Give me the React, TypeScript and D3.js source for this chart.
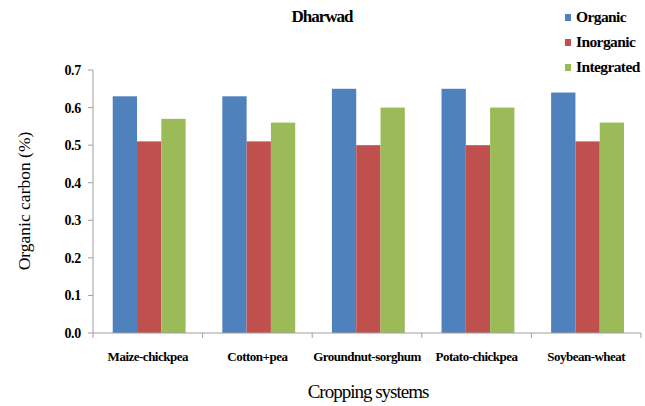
import React from "react";
import * as d3 from "d3";

const categories = ["Maize-chickpea", "Cotton+pea", "Groundnut-sorghum", "Potato-chickpea", "Soybean-wheat"];
const seriesNames = ["Organic", "Inorganic", "Integrated"];
const organic = [0.63, 0.63, 0.65, 0.65, 0.64];
const inorganic = [0.51, 0.51, 0.5, 0.5, 0.51];
const integrated = [0.57, 0.56, 0.6, 0.6, 0.56];
const yTicks = [0, 0.1, 0.2, 0.3, 0.4, 0.5, 0.6, 0.7];
const colors = ["#4F81BD", "#C0504D", "#9BBB59"];

const W = 645, H = 406;
const margin = { left: 93, right: 4, top: 70, bottom: 73 };

export default function App() {
  const series = [organic, inorganic, integrated];
  const x = d3.scaleBand().domain(categories).range([margin.left, W - margin.right]).paddingInner(0).paddingOuter(0);
  const bw = x.bandwidth();
  const inner = d3.scaleBand().domain(seriesNames).range([bw * 0.18, bw * 0.845]);
  const y = d3.scaleLinear().domain([0, 0.7]).range([H - margin.bottom, margin.top]);
  const font = "'Liberation Serif', 'Times New Roman', serif";
  const axisColor = "#a0a0a0";
  const boundaries = categories.map((c) => x(c)!).concat([x(categories[categories.length - 1])! + bw]);
  return (
    <svg width={W} height={H} style={{ position: "absolute", left: 0, top: 0, background: "#fff" }}>
      <text x={322} y={22} textAnchor="middle" fontFamily={font} fontSize={17} fontWeight="bold" letterSpacing={-1}>Dharwad</text>
      {categories.map((c, i) =>
        series.map((s, j) => (
          <rect key={c + j} x={x(c)! + inner(seriesNames[j])!} y={y(s[i])} width={inner.bandwidth()} height={y(0) - y(s[i])} fill={colors[j]} />
        ))
      )}
      <line x1={margin.left} x2={margin.left} y1={y(0.7)} y2={y(0)} stroke={axisColor} />
      <line x1={margin.left} x2={W - margin.right} y1={y(0)} y2={y(0)} stroke={axisColor} />
      {yTicks.map((t) => (
        <g key={t}>
          <line x1={margin.left - 5} x2={margin.left} y1={y(t)} y2={y(t)} stroke={axisColor} />
          <text x={81} y={y(t) + 5} textAnchor="end" fontFamily={font} fontSize={14} fontWeight="bold" letterSpacing={-0.3}>{t.toFixed(1)}</text>
        </g>
      ))}
      {boundaries.map((b, i) => (
        <line key={i} x1={b} x2={b} y1={y(0)} y2={y(0) + 5} stroke={axisColor} />
      ))}
      {categories.map((c) => (
        <text key={c} x={x(c)! + bw / 2} y={361} textAnchor="middle" fontFamily={font} fontSize={13} fontWeight="bold" letterSpacing={-0.5}>{c}</text>
      ))}
      <text x={368} y={398} textAnchor="middle" fontFamily={font} fontSize={19} letterSpacing={-1}>Cropping systems</text>
      <text transform={`translate(30,201) rotate(-90)`} textAnchor="middle" fontFamily={font} fontSize={17.5}>Organic carbon (%)</text>
      {seriesNames.map((n, j) => (
        <g key={n}>
          <rect x={565} y={14 + j * 25} width={6} height={7} fill={colors[j]} />
          <text x={576} y={22 + j * 25} fontFamily={font} fontSize={15.5} fontWeight="bold" letterSpacing={-0.6}>{n}</text>
        </g>
      ))}
    </svg>
  );
}
